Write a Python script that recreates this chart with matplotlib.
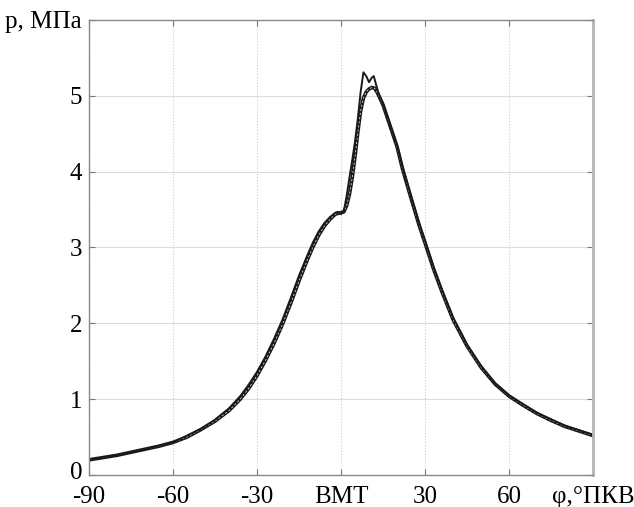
import matplotlib
matplotlib.use("Agg")
import matplotlib.pyplot as plt
import matplotlib.transforms as mtransforms

# crank angle, deg / pressure, MPa (smooth curve)
phi_b = [-90, -85, -80, -75, -70, -65, -60, -55, -50, -45, -40, -36, -33, -30,
         -27, -24, -21, -18, -15, -12, -10, -8, -6, -4, -2, 0, 1, 2, 3, 4, 5,
         6, 7, 8, 9, 10, 11, 12, 13, 15, 17, 20, 22, 25, 28, 30, 33, 36, 40,
         45, 50, 55, 60, 65, 70, 75, 80, 85, 90]
p_b = [0.20, 0.23, 0.26, 0.30, 0.34, 0.38, 0.43, 0.50, 0.60, 0.71, 0.85, 1.00,
       1.14, 1.31, 1.51, 1.73, 1.98, 2.26, 2.56, 2.84, 3.01, 3.16, 3.28, 3.37,
       3.44, 3.46, 3.47, 3.55, 3.70, 3.92, 4.20, 4.52, 4.80, 4.97, 5.05, 5.09,
       5.11, 5.10, 5.04, 4.88, 4.66, 4.33, 4.03, 3.65, 3.28, 3.06, 2.72, 2.42,
       2.05, 1.70, 1.42, 1.20, 1.04, 0.92, 0.81, 0.72, 0.64, 0.58, 0.52]

# measured curve with the pressure oscillation at the peak
phi_a = [-90, -80, -70, -60, -50, -45, -40, -36, -33, -30, -27, -24, -21, -18,
         -15, -12, -10, -8, -6, -4, -2, -1, 0, 1, 2, 3, 4, 5, 6, 7, 8, 9, 10,
         11, 11.7, 12.5, 13.5, 15, 17, 20, 22, 25, 28, 30, 33, 36, 40, 45, 50,
         55, 60, 70, 80, 90]
p_a = [0.20, 0.26, 0.34, 0.43, 0.61, 0.73, 0.88, 1.04, 1.19, 1.36, 1.56, 1.79,
       2.04, 2.33, 2.63, 2.90, 3.07, 3.21, 3.32, 3.40, 3.46, 3.47, 3.44, 3.48,
       3.68, 3.92, 4.15, 4.40, 4.70, 5.05, 5.31, 5.26, 5.18, 5.24, 5.26, 5.15,
       5.02, 4.90, 4.68, 4.35, 4.06, 3.68, 3.31, 3.09, 2.75, 2.45, 2.08, 1.72,
       1.44, 1.21, 1.05, 0.82, 0.65, 0.53]

x_ticks = [-90, -60, -30, 0, 30, 60, 90]
x_labels = ["-90", "-60", "-30", "ВМТ", "30", "60", "φ,°ПКВ"]
y_ticks = [0, 1, 2, 3, 4, 5, 6]
y_labels = ["0", "1", "2", "3", "4", "5", "p, МПа"]

plt.rcParams["font.family"] = ["Liberation Serif", "DejaVu Serif"]

fig = plt.figure(figsize=(6.34, 5.07), dpi=100)
ax = fig.add_axes([0.1404, 0.0631, 0.795, 0.8975])

ax.plot(phi_b, p_b, color="#1a1a1a", lw=2.6, solid_joinstyle="round")
ax.plot(phi_b, p_b, color="white", lw=0.5, ls=(0, (3, 3)))
ax.plot(phi_a, p_a, color="#1a1a1a", lw=1.4, solid_joinstyle="round")

ax.set_xlim(-90, 90)
ax.set_ylim(0, 6)
ax.set_xticks(x_ticks)
ax.set_xticklabels(x_labels)
ax.set_yticks(y_ticks)
ax.set_yticklabels(y_labels)

ax.grid(True, axis="x", color="#cccccc", lw=0.8, ls=":")
ax.grid(True, axis="y", color="#dddddd", lw=0.8, ls="-")
ax.tick_params(direction="in", length=4, width=0.8, color="#777777",
               top=True, right=True, labelsize=18)
ax.tick_params(axis="x", pad=8)
ax.tick_params(axis="y", pad=5)
for side in ["left", "bottom", "top"]:
    ax.spines[side].set_color("#888888")
    ax.spines[side].set_linewidth(1.0)
ax.spines["right"].set_color("#b5b5b5")
ax.spines["right"].set_linewidth(2.0)

# lift the "0" label a little so it clears "-90"
zero_lbl = ax.get_yticklabels()[0]
zero_lbl.set_transform(zero_lbl.get_transform()
                       + mtransforms.ScaledTranslation(0, 3 / 72, fig.dpi_scale_trans))

fig.savefig("out.png", dpi=100)
